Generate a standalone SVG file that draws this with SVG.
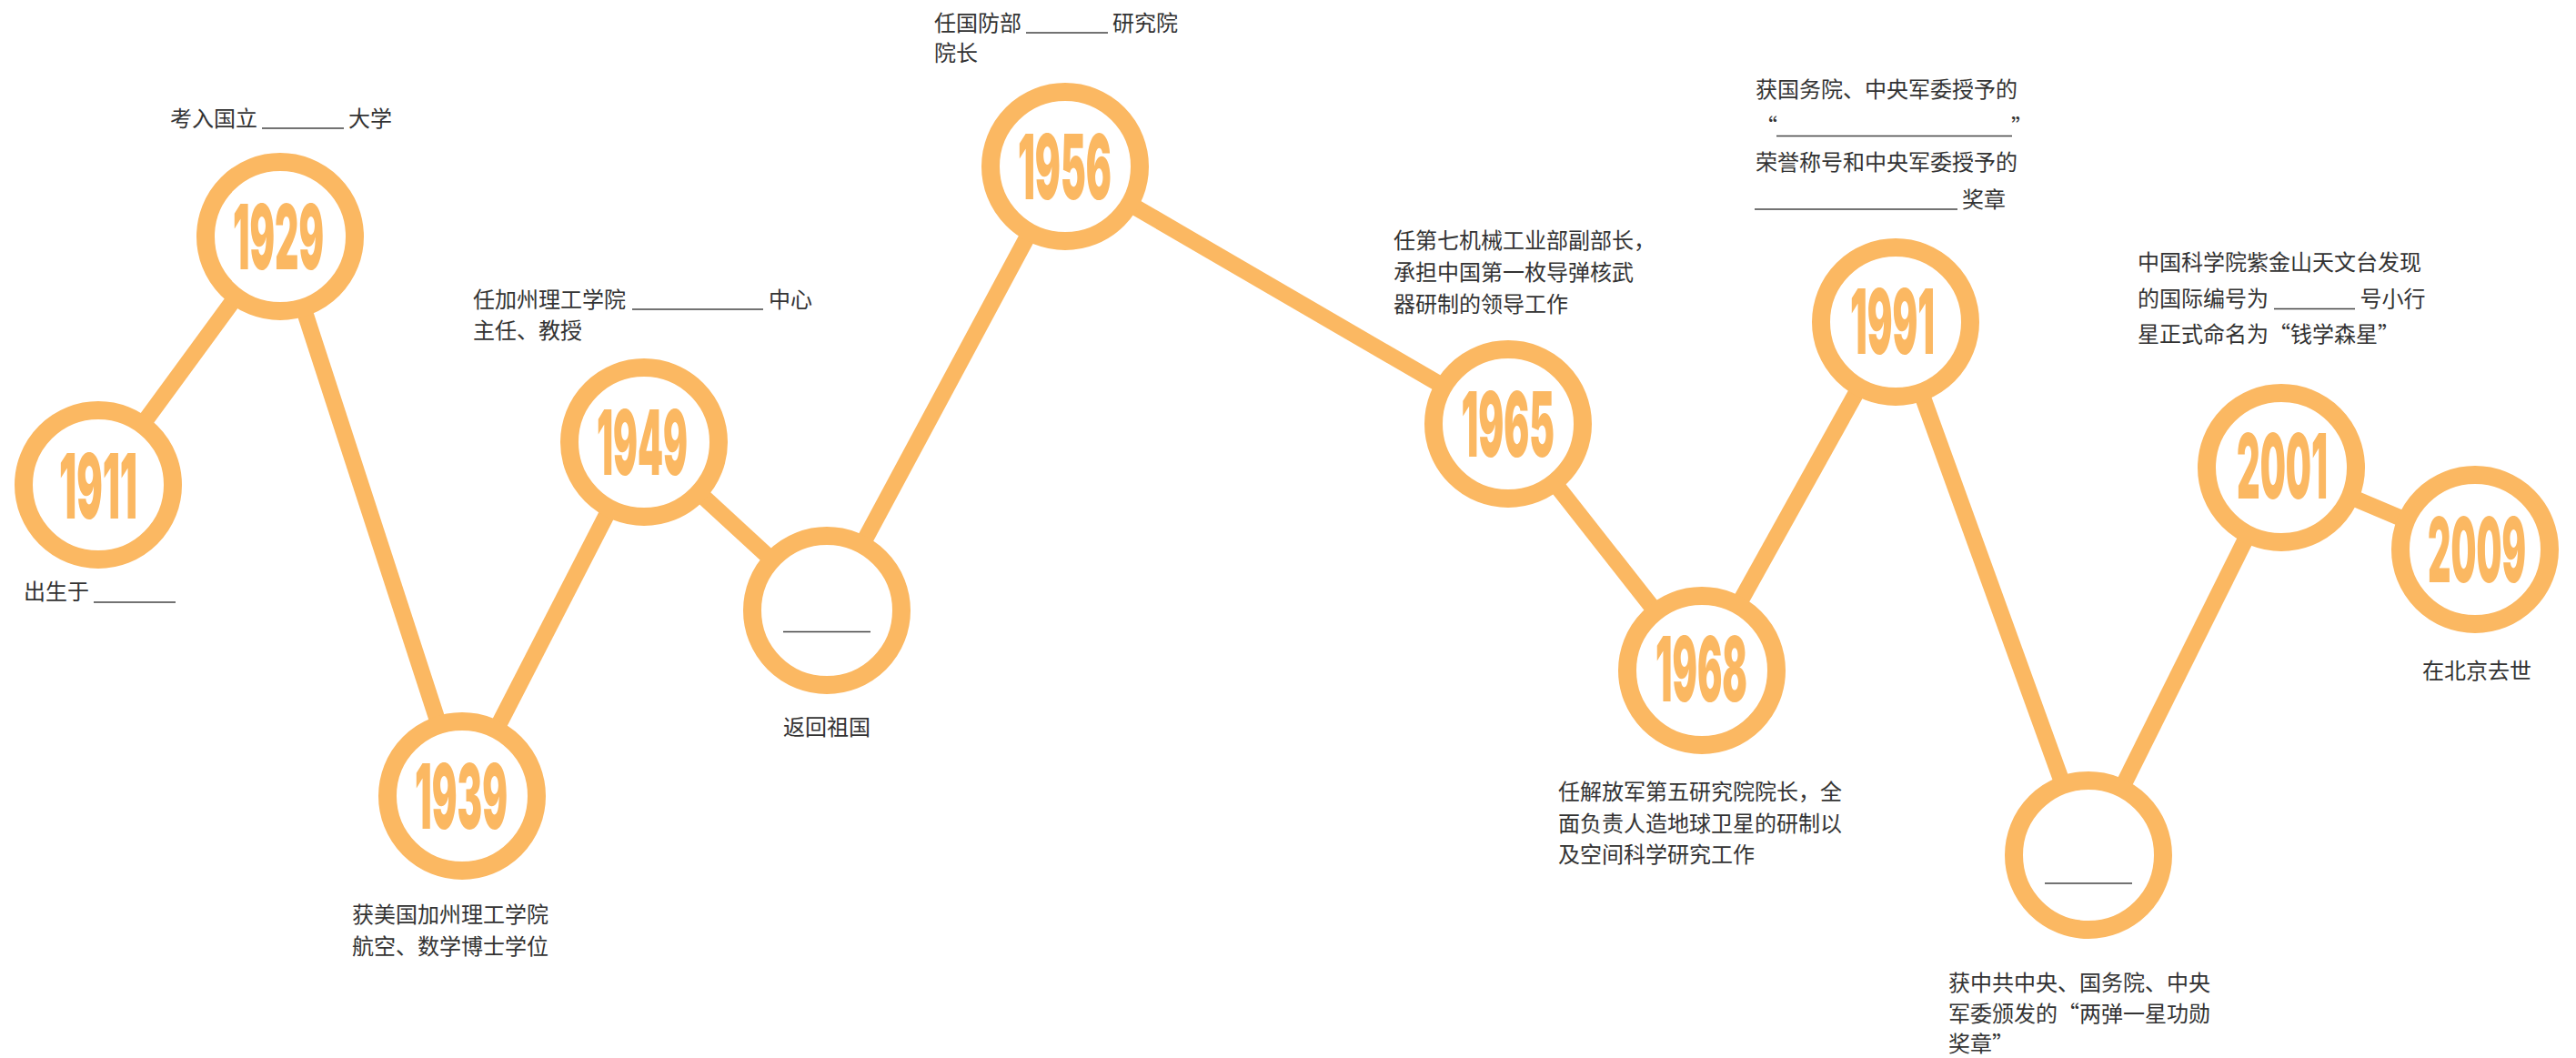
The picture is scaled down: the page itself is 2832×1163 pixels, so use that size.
<svg xmlns="http://www.w3.org/2000/svg" width="2832" height="1163" viewBox="0 0 2832 1163">
<style>
.bg{fill:#ffffff}
.con{stroke:#FBB862;stroke-width:18;stroke-linecap:butt}
.ring{fill:#ffffff;stroke:#FBB862;stroke-width:20}
.yr{font-family:"Inter","Roboto","Liberation Sans",sans-serif;font-weight:900;font-size:99px;fill:#FBB862}
.lb{font-family:"Noto Sans CJK SC","Noto Sans",sans-serif;font-size:24px;fill:#333333}
.bl{stroke:#444444;stroke-width:1.6}
</style>
<rect class="bg" x="0" y="0" width="2832" height="1163"/>
<g id="connectors">
<line class="con" x1="108" y1="533" x2="308" y2="260"/>
<line class="con" x1="308" y1="260" x2="508" y2="875"/>
<line class="con" x1="508" y1="875" x2="708" y2="486"/>
<line class="con" x1="708" y1="486" x2="909" y2="671"/>
<line class="con" x1="909" y1="671" x2="1171" y2="183"/>
<line class="con" x1="1171" y1="183" x2="1658" y2="466"/>
<line class="con" x1="1658" y1="466" x2="1871" y2="737"/>
<line class="con" x1="1871" y1="737" x2="2084" y2="354"/>
<line class="con" x1="2084" y1="354" x2="2296" y2="940"/>
<line class="con" x1="2296" y1="940" x2="2508" y2="514"/>
<line class="con" x1="2508" y1="514" x2="2721" y2="604"/>
</g>
<g id="n1911">
<circle class="ring" cx="108" cy="533" r="82"/>
<text class="yr" transform="translate(65 570) scale(0.5 1)" x="0" y="0" textLength="172" lengthAdjust="spacingAndGlyphs">1911</text>
<text class="lb" x="26" y="659">出生于</text>
<line class="bl" x1="103" y1="662" x2="193" y2="662"/>
</g>
<g id="n1929">
<circle class="ring" cx="308" cy="260" r="82"/>
<text class="yr" transform="translate(256 296) scale(0.5 1)" x="0" y="0" textLength="200" lengthAdjust="spacingAndGlyphs">1929</text>
<text class="lb" x="187" y="139">考入国立</text>
<line class="bl" x1="288" y1="141" x2="378" y2="141"/>
<text class="lb" x="383" y="139">大学</text>
</g>
<g id="n1939">
<circle class="ring" cx="508" cy="875" r="82"/>
<text class="yr" transform="translate(456 911) scale(0.5 1)" x="0" y="0" textLength="204" lengthAdjust="spacingAndGlyphs">1939</text>
<text class="lb" x="387" y="1014">获美国加州理工学院</text>
<text class="lb" x="387" y="1049">航空、数学博士学位</text>
</g>
<g id="n1949">
<circle class="ring" cx="708" cy="486" r="82"/>
<text class="yr" transform="translate(656 522) scale(0.5 1)" x="0" y="0" textLength="200" lengthAdjust="spacingAndGlyphs">1949</text>
<text class="lb" x="520" y="338">任加州理工学院</text>
<line class="bl" x1="695" y1="340" x2="839" y2="340"/>
<text class="lb" x="845" y="338">中心</text>
<text class="lb" x="520" y="372">主任、教授</text>
</g>
<g id="nReturn">
<circle class="ring" cx="909" cy="671" r="82"/>
<line class="bl" x1="861" y1="694.5" x2="957" y2="694.5"/>
<text class="lb" x="861" y="808">返回祖国</text>
</g>
<g id="n1956">
<circle class="ring" cx="1171" cy="183" r="82"/>
<text class="yr" transform="translate(1119 219) scale(0.5 1)" x="0" y="0" textLength="206" lengthAdjust="spacingAndGlyphs">1956</text>
<text class="lb" x="1027" y="33.5">任国防部</text>
<line class="bl" x1="1128" y1="36" x2="1218" y2="36"/>
<text class="lb" x="1223" y="33.5">研究院</text>
<text class="lb" x="1027" y="67">院长</text>
</g>
<g id="n1965">
<circle class="ring" cx="1658" cy="466" r="82"/>
<text class="yr" transform="translate(1606.5 502) scale(0.5 1)" x="0" y="0" textLength="205" lengthAdjust="spacingAndGlyphs">1965</text>
<text class="lb" x="1532" y="273">任第七机械工业部副部长，</text>
<text class="lb" x="1532" y="308">承担中国第一枚导弹核武</text>
<text class="lb" x="1532" y="343">器研制的领导工作</text>
</g>
<g id="n1968">
<circle class="ring" cx="1871" cy="737" r="82"/>
<text class="yr" transform="translate(1820 770.5) scale(0.5 1)" x="0" y="0" textLength="202" lengthAdjust="spacingAndGlyphs">1968</text>
<text class="lb" x="1713" y="878.5">任解放军第五研究院院长，全</text>
<text class="lb" x="1713" y="914">面负责人造地球卫星的研制以</text>
<text class="lb" x="1713" y="948">及空间科学研究工作</text>
</g>
<g id="n1991">
<circle class="ring" cx="2084" cy="354" r="82"/>
<text class="yr" transform="translate(2034 388.5) scale(0.5 1)" x="0" y="0" textLength="186" lengthAdjust="spacingAndGlyphs">1991</text>
<text class="lb" x="1930" y="107">获国务院、中央军委授予的</text>
<text class="lb" x="1930" y="147.5">“</text>
<line class="bl" x1="1953" y1="149.5" x2="2212" y2="149.5"/>
<text class="lb" x="2211" y="147.5">”</text>
<text class="lb" x="1930" y="187">荣誉称号和中央军委授予的</text>
<line class="bl" x1="1929" y1="230" x2="2152" y2="230"/>
<text class="lb" x="2157" y="228">奖章</text>
</g>
<g id="nMedal">
<circle class="ring" cx="2296" cy="940" r="82"/>
<line class="bl" x1="2248" y1="971" x2="2344" y2="971"/>
<text class="lb" x="2142" y="1088.5">获中共中央、国务院、中央</text>
<text class="lb" x="2142" y="1122.5">军委颁发的“两弹一星功勋</text>
<text class="lb" x="2142" y="1156">奖章”</text>
</g>
<g id="n2001">
<circle class="ring" cx="2508" cy="514" r="82"/>
<text class="yr" transform="translate(2459 547.5) scale(0.5 1)" x="0" y="0" textLength="200" lengthAdjust="spacingAndGlyphs">2001</text>
<text class="lb" x="2350" y="297">中国科学院紫金山天文台发现</text>
<text class="lb" x="2350" y="337">的国际编号为</text>
<line class="bl" x1="2500" y1="339.5" x2="2589" y2="339.5"/>
<text class="lb" x="2594.5" y="337">号小行</text>
<text class="lb" x="2350" y="376">星正式命名为“钱学森星”</text>
</g>
<g id="n2009">
<circle class="ring" cx="2721" cy="604" r="82"/>
<text class="yr" transform="translate(2669 640) scale(0.5 1)" x="0" y="0" textLength="216" lengthAdjust="spacingAndGlyphs">2009</text>
<text class="lb" x="2663" y="746">在北京去世</text>
</g>
</svg>
